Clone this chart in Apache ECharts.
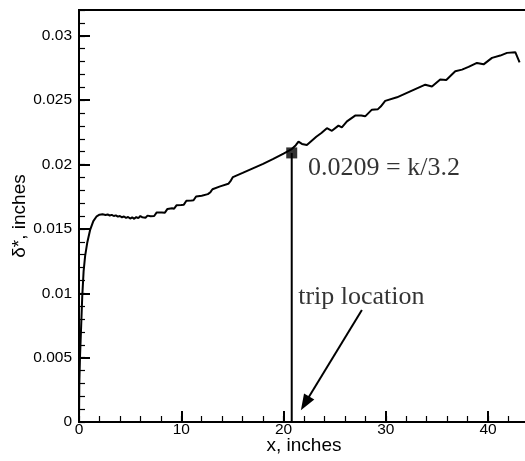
<!DOCTYPE html>
<html>
<head>
<meta charset="utf-8">
<script src="https://cdn.jsdelivr.net/npm/echarts@6/dist/echarts.min.js"></script>
<style>
  html, body { margin: 0; padding: 0; background: #fff; }
  #chart { width: 525px; height: 461px; }
</style>
</head>
<body>
<div id="chart"></div>
<script>
// Displacement thickness along the plate (x in inches, delta* in inches)
const xInches = [
  0, 0.03, 0.1, 0.2, 0.32, 0.45, 0.6, 0.8, 1.08, 1.4, 1.73, 2.0, 2.3,
  2.6, 2.8, 3.0, 3.2, 3.4, 3.6, 3.8, 4.0, 4.2, 4.4, 4.6, 4.8, 5.0, 5.2, 5.4, 5.6, 5.8, 6.0, 6.2,
  6.5, 6.7, 7.0, 7.35, 7.6, 8.1, 8.4, 8.65, 9.1, 9.3, 9.55, 10.0, 10.25, 10.5, 11.0, 11.2, 11.45,
  12.0, 12.6, 12.85, 13.05, 13.8, 14.6, 14.85, 15.05, 16.0, 17.0, 18.0, 19.0, 20.0, 20.8,
  21.2, 21.46, 21.8, 22.28, 23.2, 23.7, 24.24, 24.73, 25.37, 25.7, 26.2, 27.0, 27.6, 27.98,
  28.64, 29.23, 29.5, 29.94, 31.09, 32.39, 33.86, 34.51, 35.32, 35.91, 36.79, 37.45, 38.09,
  38.91, 39.56, 40.38, 41.19, 41.85, 42.66, 43.08
];
const deltaStar = [
  0, 0.003, 0.0051, 0.0072, 0.0098, 0.0117, 0.0129, 0.0139, 0.0149, 0.0156, 0.01598, 0.0161, 0.01614,
  0.01608, 0.01612, 0.01604, 0.01609, 0.016, 0.01605, 0.01595, 0.016, 0.0159, 0.01596, 0.01585, 0.01592, 0.0158, 0.0159, 0.01578, 0.01592, 0.01583, 0.016, 0.0159,
  0.01587, 0.01603, 0.01598, 0.016, 0.01628, 0.01628, 0.01626, 0.01655, 0.0166, 0.01657, 0.01684, 0.01685, 0.01688, 0.01718, 0.0172, 0.01722, 0.01752,
  0.01758, 0.0177, 0.01785, 0.01808, 0.0183, 0.0185, 0.01875, 0.01902, 0.01935, 0.0197, 0.02005, 0.02043, 0.02085, 0.0212,
  0.0215, 0.02178, 0.0216, 0.02152, 0.02215, 0.02245, 0.02282, 0.02262, 0.02302, 0.02288, 0.02335, 0.0238, 0.0238, 0.02374,
  0.02426, 0.0243, 0.0245, 0.02494, 0.02522, 0.02568, 0.0262, 0.02606, 0.0266, 0.02657, 0.02724, 0.02737, 0.02758,
  0.02789, 0.02778, 0.02828, 0.02846, 0.02867, 0.02872, 0.02794
];

// Trip location and the displacement thickness there
const tripX = 20.8;
const tripDelta = 0.0209;

// Tick labels
const xTickLabels = ['0', '10', '20', '30', '40'];
const yTickLabels = ['0', '0.005', '0.01', '0.015', '0.02', '0.025', '0.03'];

const curve = xInches.map((x, i) => [x, deltaStar[i]]);

const sans = 'Liberation Sans, Arial, sans-serif';
const serif = 'Liberation Serif, Times New Roman, serif';

const majorAxis = (extra) => Object.assign({
  type: 'value',
  axisLine: { show: true, onZero: false, lineStyle: { color: '#000', width: 2 } },
  axisTick: { show: true, inside: true, length: 11, lineStyle: { color: '#000', width: 2 } },
  splitLine: { show: false },
  nameMoveOverlap: false
}, extra);

const minorAxis = (extra) => Object.assign({
  type: 'value',
  axisLine: { show: false },
  axisTick: { show: true, inside: true, length: 6, lineStyle: { color: '#000', width: 1.2 } },
  axisLabel: { show: false },
  splitLine: { show: false }
}, extra);

const chart = echarts.init(document.getElementById('chart'), null, { renderer: 'canvas' });

chart.setOption({
  animation: false,
  backgroundColor: '#fff',
  grid: {
    left: 79, top: 10, width: 450, height: 412,
    containLabel: false, outerBoundsMode: 'none',
    show: true, borderColor: '#000', borderWidth: 2, backgroundColor: 'transparent'
  },
  xAxis: [
    majorAxis({
      min: 0, max: 44, interval: 10, position: 'bottom',
      axisLabel: {
        margin: 0, fontFamily: sans, fontSize: 15.5, color: '#000', showMaxLabel: false,
        formatter: (v) => xTickLabels[Math.round(v / 10)] ?? ''
      },
      name: 'x, inches', nameLocation: 'middle', nameGap: 14,
      nameTextStyle: { fontFamily: sans, fontSize: 19, color: '#000', verticalAlign: 'top' }
    }),
    minorAxis({ min: 0, max: 44, interval: 2, position: 'bottom' })
  ],
  yAxis: [
    majorAxis({
      min: 0, max: 0.032, interval: 0.005, position: 'left',
      axisLabel: {
        margin: 7, fontFamily: sans, fontSize: 15.5, color: '#000', showMaxLabel: false,
        formatter: (v) => yTickLabels[Math.round(v / 0.005)] ?? ''
      },
      name: 'δ*, inches', nameLocation: 'middle', nameGap: 50,
      nameTextStyle: { fontFamily: sans, fontSize: 19, color: '#000' }
    }),
    minorAxis({ min: 0, max: 0.032, interval: 0.001, position: 'left' })
  ],
  series: [
    {
      type: 'line',
      data: curve,
      showSymbol: false,
      symbol: 'none',
      lineStyle: { color: '#000', width: 2 },
      z: 3
    },
    {
      type: 'line',
      data: [[tripX, 0], [tripX, tripDelta]],
      symbol: 'none',
      lineStyle: { color: '#000', width: 2 },
      z: 3,
      markLine: {
        silent: true,
        symbol: ['none', 'triangle'],
        symbolSize: [12, 16],
        label: { show: false },
        lineStyle: { color: '#000', width: 2, type: 'solid' },
        data: [[{ coord: [27.66, 0.0087] }, { coord: [22.1, 0.00145] }]]
      }
    },
    {
      type: 'scatter',
      data: [[tripX, tripDelta]],
      symbol: 'rect',
      symbolSize: 11,
      itemStyle: { color: '#000' },
      z: 4
    },
    {
      type: 'scatter',
      symbolSize: 0,
      silent: true,
      label: {
        show: true, position: 'right', distance: 0, formatter: '{b}',
        fontFamily: serif, fontSize: 26, color: '#000'
      },
      data: [
        { name: tripDelta + ' = k/3.2', value: [22.4, 0.01971] },
        { name: 'trip location', value: [21.43, 0.00968] }
      ],
      z: 5
    }
  ]
});
</script>
</body>
</html>
